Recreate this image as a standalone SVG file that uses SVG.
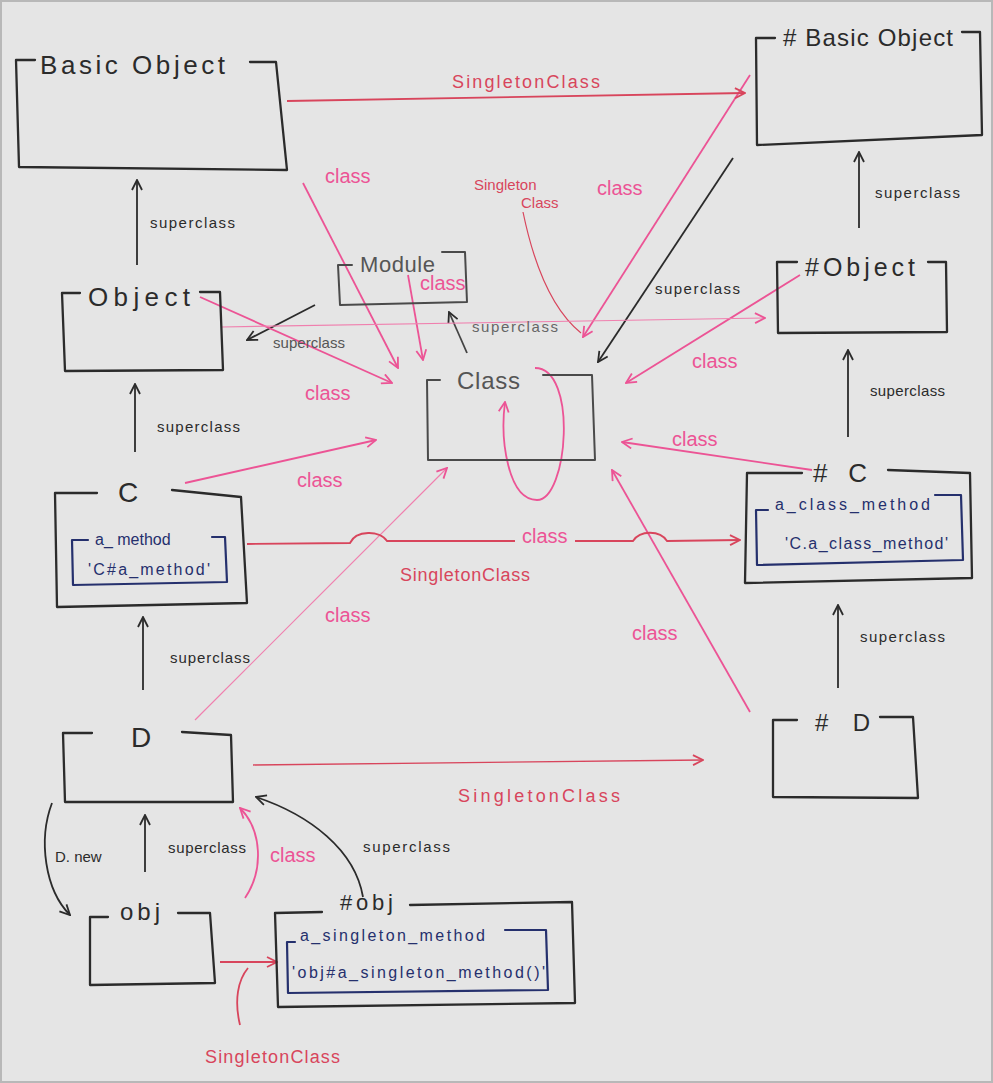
<svg xmlns="http://www.w3.org/2000/svg" width="993" height="1083" viewBox="0 0 993 1083">
<defs>
<style>
.box{fill:none;stroke:#2b2b2b;stroke-width:2.3;stroke-linejoin:round;stroke-linecap:round}
.gbox{fill:none;stroke:#4a4a4a;stroke-width:2;stroke-linejoin:round;stroke-linecap:round}
.inner{fill:none;stroke:#25306d;stroke-width:2.2;stroke-linejoin:round;stroke-linecap:round}
.blk{fill:none;stroke:#2b2b2b;stroke-width:1.8;marker-end:url(#ab)}
.pnk{fill:none;stroke:#ec5495;stroke-width:1.8;marker-end:url(#ap)}
.pnkt{fill:none;stroke:#f07fae;stroke-width:1.2;marker-end:url(#ap)}
.red{fill:none;stroke:#d8455c;stroke-width:1.8}
.redm{marker-end:url(#ar)}
.ttl{font-family:"Liberation Sans",Arial,sans-serif;fill:#2b2b2b}
.gttl{font-family:"Liberation Sans",Arial,sans-serif;fill:#555}
.lb{font-family:"Liberation Sans",Arial,sans-serif;font-size:15px;fill:#2b2b2b}
.lp{font-family:"Liberation Sans",Arial,sans-serif;font-size:20px;fill:#ec5495}
.lr{font-family:"Liberation Sans",Arial,sans-serif;font-size:18px;fill:#d8455c}
.bl{font-family:"Liberation Sans",Arial,sans-serif;font-size:16px;fill:#25306d}
</style>
<marker id="ab" viewBox="0 0 12 12" refX="11" refY="6" markerWidth="12" markerHeight="12" markerUnits="userSpaceOnUse" orient="auto"><path d="M1,1 L11,6 L1,11" fill="none" stroke="#2b2b2b" stroke-width="1.8"/></marker>
<marker id="ap" viewBox="0 0 12 12" refX="11" refY="6" markerWidth="12" markerHeight="12" markerUnits="userSpaceOnUse" orient="auto"><path d="M1,1 L11,6 L1,11" fill="none" stroke="#ec5495" stroke-width="1.8"/></marker>
<marker id="ar" viewBox="0 0 12 12" refX="11" refY="6" markerWidth="12" markerHeight="12" markerUnits="userSpaceOnUse" orient="auto"><path d="M1,1 L11,6 L1,11" fill="none" stroke="#d8455c" stroke-width="1.8"/></marker>
</defs>
<rect x="0" y="0" width="993" height="1083" fill="#e5e5e5"/>
<rect x="1" y="1" width="991" height="1081" fill="none" stroke="#b8b8b8" stroke-width="2"/>

<g id="connectors">
<!-- black superclass arrows -->
<path class="blk" d="M137,265 L137,180"/>
<path class="blk" d="M135,452 L135,384"/>
<path class="blk" d="M143,690 L143,617"/>
<path class="blk" d="M145,872 L145,815"/>
<path class="blk" d="M859,228 L859,152"/>
<path class="blk" d="M848,437 L848,350"/>
<path class="blk" d="M838,688 L838,605"/>
<path class="blk" d="M363,897 C355,850 310,815 256,797"/>
<path class="blk" d="M315,305 L247,340"/>
<path class="blk" style="stroke:#444" d="M467,353 L449,312"/>
<path class="blk" d="M733,158 L598,362"/>
<path class="blk" d="M52,803 C38,840 45,890 70,915"/>
<!-- pink class arrows -->
<path class="pnk" d="M200,297 L392,383"/>
<path class="pnk" d="M303,183 L398,368"/>
<path class="pnk" d="M408,275 L423,360"/>
<path class="pnk" d="M185,483 L376,440"/>
<path class="pnkt" d="M195,720 L447,468"/>
<path class="pnk" d="M750,75 L583,337"/>
<path class="red" style="stroke-width:1.2" d="M523,212 C535,270 555,312 581,333"/>
<path class="pnk" d="M800,275 L626,383"/>
<path class="pnk" d="M812,470 L622,442"/>
<path class="pnk" d="M750,712 L612,470"/>
<path class="pnk" d="M535,368 C578,368 568,500 537,500 C508,500 500,440 505,402"/>
<path class="pnk" d="M245,898 C264,870 262,830 240,808"/>
<path class="pnkt" d="M222,327 L765,318"/>
<!-- red singleton class arrows -->
<path class="red redm" d="M287,101 L745,93"/>
<path class="red redm" d="M247,544 L350,543 C356,530 380,530 387,541 L515,541 M575,541 L633,541 C640,530 660,530 667,541 L740,540"/>
<path class="red redm" style="stroke-width:1.3" d="M253,765 L703,760"/>
<path class="red redm" d="M220,962 L277,962"/>
<path class="red" d="M240,1025 C234,1000 238,980 248,968"/>
<!-- labels -->
<text class="lr" x="452" y="88" textLength="148">SingletonClass</text>
<text class="lp" x="325" y="183">class</text>
<text class="lr" x="474" y="190" style="font-size:15px">Singleton</text>
<text class="lr" x="521" y="208" style="font-size:15px">Class</text>
<text class="lp" x="597" y="195">class</text>
<text class="lb" x="150" y="228" textLength="85">superclass</text>
<text class="lb" x="157" y="432" textLength="83">superclass</text>
<text class="lb" x="170" y="663" textLength="80">superclass</text>
<text class="lb" x="168" y="853" textLength="78">superclass</text>
<text class="lb" x="875" y="198" textLength="85">superclass</text>
<text class="lb" x="870" y="396" textLength="75">superclass</text>
<text class="lb" x="860" y="642" textLength="85">superclass</text>
<text class="lb" x="363" y="852" textLength="87">superclass</text>
<text class="lb" x="273" y="348" style="fill:#555" textLength="72">superclass</text>
<text class="lb" x="472" y="332" style="fill:#666" textLength="86">superclass</text>
<text class="lb" x="655" y="294" textLength="85">superclass</text>
<text class="lp" x="420" y="290">class</text>
<text class="lp" x="305" y="400">class</text>
<text class="lp" x="297" y="487">class</text>
<text class="lp" x="325" y="622">class</text>
<text class="lp" x="692" y="368">class</text>
<text class="lp" x="672" y="446">class</text>
<text class="lp" x="632" y="640">class</text>
<text class="lp" x="270" y="862">class</text>
<text class="lp" x="522" y="543">class</text>
<text class="lr" x="400" y="581" textLength="130">SingletonClass</text>
<text class="lr" x="458" y="802" textLength="162">SingletonClass</text>
<text class="lr" x="205" y="1063" textLength="135">SingletonClass</text>
<text class="lb" x="55" y="862">D. new</text>
</g>

<g id="BasicObject">
<path class="box" d="M35,60 L16,60 L19,167 L287,170 L276,62 L250,62"/>
<text class="ttl" x="40" y="74" font-size="26" textLength="185">Basic Object</text>
</g>
<g id="SBasicObject">
<path class="box" d="M775,38 L756,38 L757,145 L982,135 L980,32 L962,32"/>
<text class="ttl" x="783" y="46" font-size="24" textLength="170"># Basic Object</text>
</g>
<g id="Module">
<path class="gbox" d="M352,265 L338,265 L340,305 L467,302 L465,252 L442,252"/>
<text class="gttl" x="360" y="272" font-size="22" textLength="75">Module</text>
</g>
<g id="Object">
<path class="box" d="M80,293 L62,293 L65,371 L223,370 L220,292 L200,292"/>
<text class="ttl" x="88" y="306" font-size="26" textLength="102">Object</text>
</g>
<g id="SObject">
<path class="box" d="M797,262 L777,262 L778,333 L947,332 L946,262 L928,262"/>
<text class="ttl" x="805" y="276" font-size="25" textLength="110">#Object</text>
</g>
<g id="Class">
<path class="gbox" d="M440,380 L427,380 L428,460 L595,460 L592,375 L543,375"/>
<text class="gttl" x="457" y="389" font-size="24" textLength="63">Class</text>
</g>
<g id="C">
<path class="box" d="M97,493 L55,493 L57,607 L247,603 L241,497 L172,490"/>
<text class="ttl" x="118" y="502" font-size="28">C</text>
<path class="inner" d="M88,540 L72,540 L73,585 L227,582 L225,537 L212,537"/>
<text class="bl" x="95" y="545" font-size="17">a_ method</text>
<text class="bl" x="88" y="575" font-size="15" textLength="122">'C#a_method'</text>
</g>
<g id="SC">
<path class="box" d="M802,473 L747,473 L745,583 L972,578 L970,473 L888,470"/>
<text class="ttl" x="813" y="482" font-size="26" textLength="54"># C</text>
<path class="inner" d="M768,510 L756,510 L757,565 L963,560 L961,495 L935,495"/>
<text class="bl" x="775" y="510" textLength="155">a_class_method</text>
<text class="bl" x="785" y="549" textLength="163">'C.a_class_method'</text>
</g>
<g id="D">
<path class="box" d="M92,733 L63,733 L65,802 L233,802 L231,735 L182,732"/>
<text class="ttl" x="131" y="747" font-size="28">D</text>
</g>
<g id="SD">
<path class="box" d="M797,720 L773,720 L773,797 L918,798 L913,717 L880,717"/>
<text class="ttl" x="815" y="731" font-size="24" textLength="55"># D</text>
</g>
<g id="obj">
<path class="box" d="M108,917 L90,917 L90,985 L215,983 L210,913 L178,913"/>
<text class="ttl" x="120" y="920" font-size="24" textLength="40">obj</text>
</g>
<g id="Sobj">
<path class="box" d="M322,912 L275,913 L278,1007 L575,1003 L572,902 L410,905"/>
<text class="ttl" x="340" y="910" font-size="22" textLength="53">#obj</text>
<path class="inner" d="M295,942 L287,942 L288,993 L548,990 L546,930 L505,930"/>
<text class="bl" x="300" y="941" textLength="185">a_singleton_method</text>
<text class="bl" x="292" y="978" textLength="253">'obj#a_singleton_method()'</text>
</g>
</svg>
